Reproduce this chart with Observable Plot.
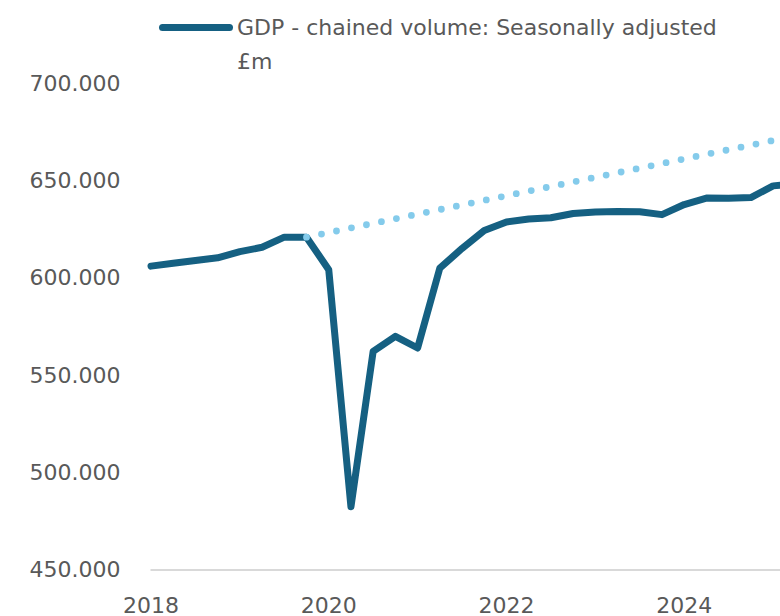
<!DOCTYPE html>
<html>
<head>
<meta charset="utf-8">
<script src="https://cdn.jsdelivr.net/npm/d3@7"></script>
<script src="https://cdn.jsdelivr.net/npm/@observablehq/plot@0.6"></script>
<style>
  html, body { margin: 0; padding: 0; background: #fff; overflow: hidden; }
  #chart { position: relative; width: 780px; height: 616px; overflow: hidden; font-family: "DejaVu Sans", sans-serif; }
  #legend { position: relative; height: 70px; }
  #legend .swatch { position: absolute; left: 159px; top: 23.5px; width: 73.5px; height: 7px; border-radius: 3.5px; background: #156082; }
  #legend .label { position: absolute; left: 237px; top: 11.4px; width: 500px; font-size: 22px; line-height: 34px; color: #595959; }
  #chart svg { display: block; max-width: none !important; height: auto; }
</style>
</head>
<body>
<div id="chart">
  <div id="legend"><div class="swatch"></div><div class="label"></div></div>
</div>
<script>
// UK GDP, chained volume measure, seasonally adjusted (£m, thousands)
const seriesName = "GDP - chained volume: Seasonally adjusted £m";

const quarters = [
  "2018 Q1", "2018 Q2", "2018 Q3", "2018 Q4",
  "2019 Q1", "2019 Q2", "2019 Q3", "2019 Q4",
  "2020 Q1", "2020 Q2", "2020 Q3", "2020 Q4",
  "2021 Q1", "2021 Q2", "2021 Q3", "2021 Q4",
  "2022 Q1", "2022 Q2", "2022 Q3", "2022 Q4",
  "2023 Q1", "2023 Q2", "2023 Q3", "2023 Q4",
  "2024 Q1", "2024 Q2", "2024 Q3", "2024 Q4",
  "2025 Q1", "2025 Q2"
];

const gdp = [
  606.3, 607.8, 609.2, 610.6,
  613.8, 616.0, 621.2, 621.2,
  604.5, 482.5, 562.5, 570.2,
  564.2, 605.3, 615.4, 624.6,
  629.0, 630.6, 631.2, 633.4,
  634.2, 634.4, 634.3, 632.8,
  638.0, 641.3, 641.2, 641.6,
  647.6, 648.6
];

// pre-pandemic trend, drawn from the 2019 Q4 level
const trendQuarters = ["2019 Q4", "2025 Q2"];
const trendValues = [621.2, 673.3];

const yTicks = [450, 500, 550, 600, 650, 700];
const yTickLabels = ["450.000", "500.000", "550.000", "600.000", "650.000", "700.000"];
const xTicks = [2018, 2020, 2022, 2024];
const xTickLabels = ["2018", "2020", "2022", "2024"];

// "2019 Q4" -> 2019.75
const toYear = (q) => {
  const [y, qq] = q.split(" Q");
  return +y + (+qq - 1) / 4;
};

const series = quarters.map((q, i) => ({t: toYear(q), v: gdp[i]}));
const trend = trendQuarters.map((q, i) => ({t: toYear(q), v: trendValues[i]}));

document.querySelector("#legend .label").textContent = seriesName;

const plot = Plot.plot({
  width: 817,
  height: 560,
  marginLeft: 150.5,
  marginRight: 0,
  marginTop: 13.5,
  marginBottom: 60.5,
  style: {fontFamily: "DejaVu Sans, sans-serif", fontSize: "22px", color: "#595959", background: "#fff", maxWidth: "none"},
  x: {domain: [2018, 2025.5]},
  y: {domain: [450, 700]},
  marks: [
    Plot.ruleY([450], {stroke: "#d9d9d9", strokeWidth: 2}),
    Plot.axisY({
      ticks: yTicks,
      tickFormat: (d) => yTickLabels[yTicks.indexOf(d)],
      tickSize: 0,
      tickPadding: 30.5,
      label: null,
      fill: "#595959"
    }),
    Plot.axisX({
      ticks: xTicks,
      tickFormat: (d) => xTickLabels[xTicks.indexOf(d)],
      tickSize: 0,
      tickPadding: 27,
      label: null,
      fill: "#595959"
    }),
    Plot.line(series, {
      x: "t", y: "v",
      stroke: "#156082",
      strokeWidth: 7,
      strokeLinejoin: "round",
      strokeLinecap: "round"
    }),
    Plot.line(trend, {
      x: "t", y: "v",
      stroke: "#84cbeb",
      strokeWidth: 6.8,
      strokeLinecap: "round",
      strokeDasharray: "0 15.3"
    })
  ]
});

document.getElementById("chart").appendChild(plot);
</script>
</body>
</html>
